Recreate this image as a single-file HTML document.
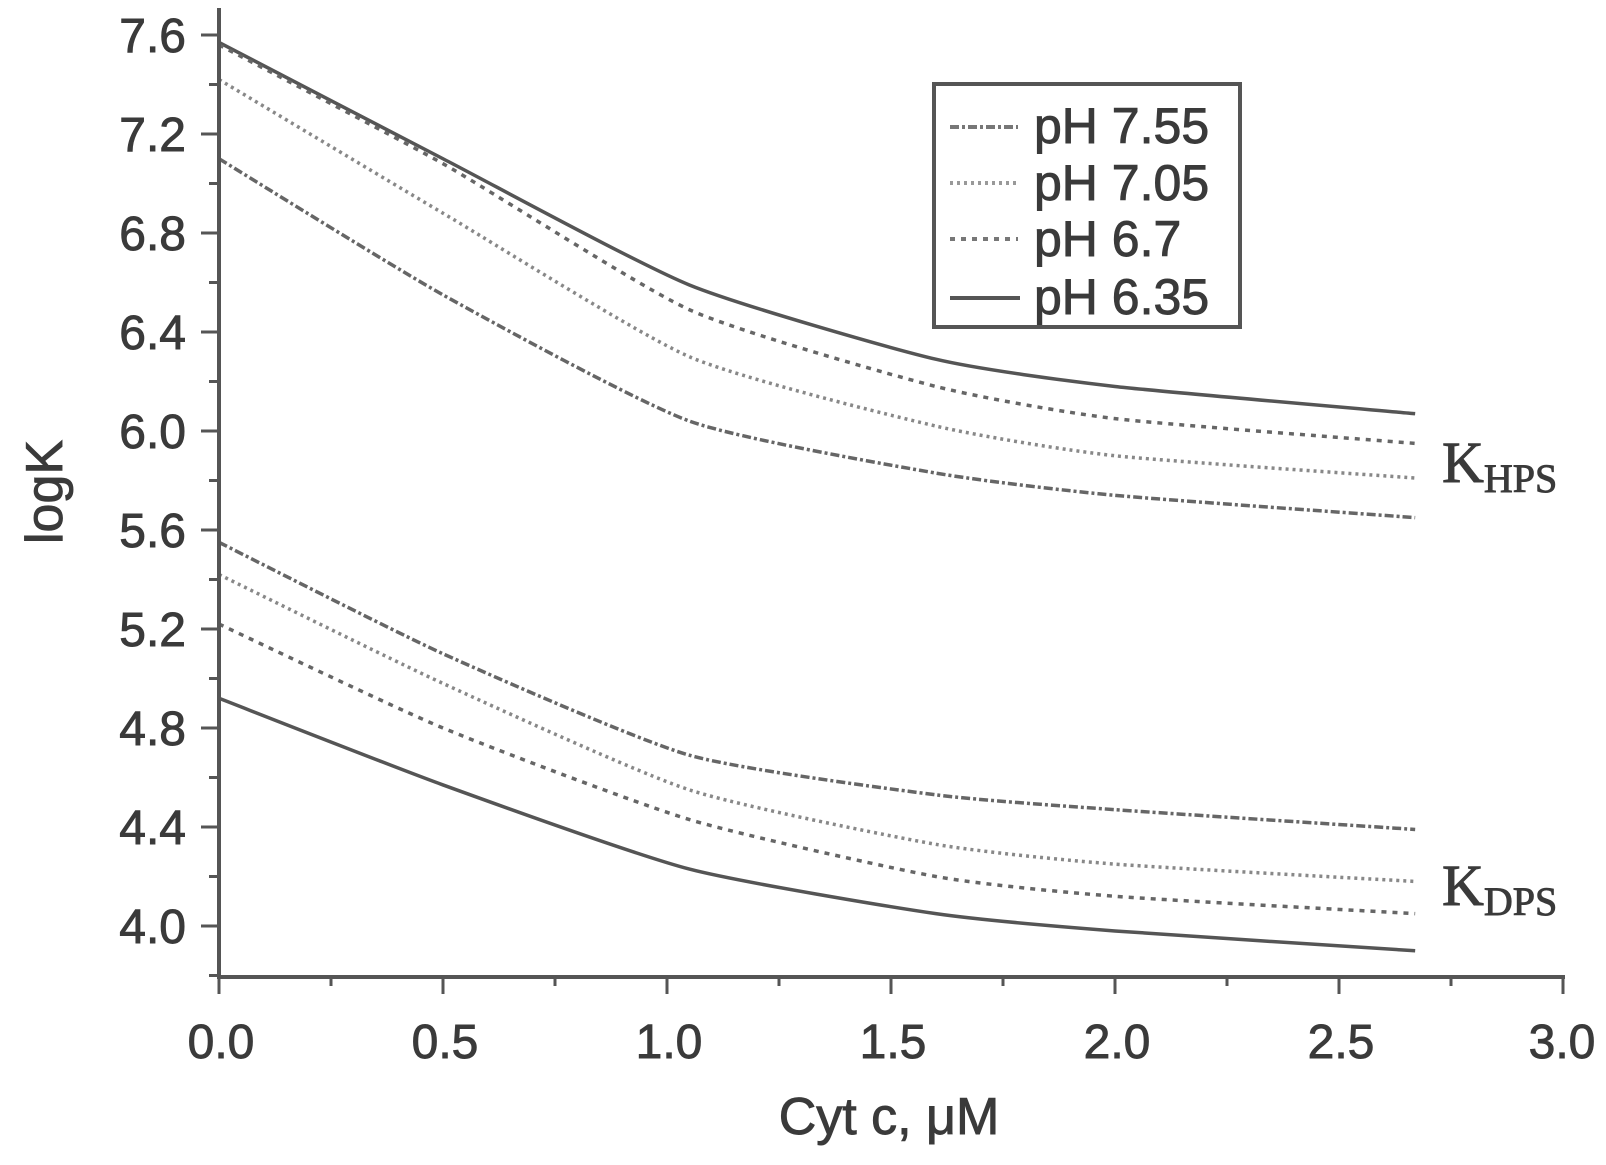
<!DOCTYPE html>
<html><head><meta charset="utf-8"><style>
html,body{margin:0;padding:0;background:#fff;}
svg{display:block;}
text{font-family:"Liberation Sans",Arial,sans-serif;fill:#3a3a3a;stroke:#3a3a3a;stroke-width:0.9;}
</style></head><body>
<svg id="s" width="1606" height="1165" viewBox="0 0 1606 1165" xmlns="http://www.w3.org/2000/svg">
<g id="curves" fill="none" stroke="#666" stroke-width="3.5"></g>
<g stroke="#555" stroke-width="4" fill="none">
<line x1="219" y1="8" x2="219" y2="979"/>
<line x1="217" y1="977" x2="1565" y2="977"/>
</g>
<g id="ticks" stroke="#555" stroke-width="3"></g>
<g font-size="48" text-anchor="end">
<text x="186" y="52">7.6</text><text x="186" y="151">7.2</text><text x="186" y="250">6.8</text>
<text x="186" y="349">6.4</text><text x="186" y="448">6.0</text><text x="186" y="547">5.6</text>
<text x="186" y="646">5.2</text><text x="186" y="745">4.8</text><text x="186" y="844">4.4</text>
<text x="186" y="943">4.0</text>
</g>
<g font-size="48" text-anchor="middle">
<text x="221" y="1058">0.0</text><text x="445" y="1058">0.5</text><text x="669" y="1058">1.0</text>
<text x="893" y="1058">1.5</text><text x="1117" y="1058">2.0</text><text x="1341" y="1058">2.5</text>
<text x="1562" y="1058">3.0</text>
<text x="889" y="1134" font-size="52">Cyt c, μM</text>
<text transform="translate(62,492) rotate(-90)" font-size="52">logK</text>
</g>
<text x="1442" y="482" font-size="58" style="font-family:'Liberation Serif',serif">K<tspan font-size="40" dy="10">HPS</tspan></text>
<text x="1442" y="905" font-size="58" style="font-family:'Liberation Serif',serif">K<tspan font-size="40" dy="10">DPS</tspan></text>
<rect x="934" y="84" width="306" height="243" fill="#fff" stroke="#555" stroke-width="4"/>
<g stroke="#777" stroke-width="4">
<line x1="950" y1="127" x2="1018" y2="127" stroke-dasharray="9,3,3,3"/>
<line x1="950" y1="183" x2="1018" y2="183" stroke-dasharray="3,4" stroke="#999"/>
<line x1="950" y1="239" x2="1018" y2="239" stroke-dasharray="5,6"/>
<line x1="950" y1="298" x2="1020" y2="298" stroke="#555"/>
</g>
<g font-size="50">
<text x="1034" y="143">pH 7.55</text><text x="1034" y="200">pH 7.05</text>
<text x="1034" y="256">pH 6.7</text><text x="1034" y="314">pH 6.35</text>
</g>
</svg>
<script>
const X=x=>219+448*x, Y=v=>35+(7.6-v)*247.5;
const xs=[0,0.5,1.05,1.6,2.0,2.67];
const series=[
[[7.57,7.1,6.59,6.29,6.18,6.07],"none","#555"],
[[7.56,7.08,6.49,6.18,6.05,5.95],"5,6","#666"],
[[7.42,6.88,6.3,6.02,5.9,5.81],"3,4","#888"],
[[7.1,6.55,6.04,5.83,5.74,5.65],"9,3,3,3","#666"],
[[5.55,5.1,4.69,4.53,4.47,4.39],"9,3,3,3","#666"],
[[5.42,4.98,4.55,4.33,4.25,4.18],"3,4","#888"],
[[5.22,4.8,4.43,4.2,4.12,4.05],"5,6","#666"],
[[4.92,4.57,4.23,4.05,3.98,3.9],"none","#555"]];
const g=document.getElementById('curves');
series.forEach(([ys,da,c])=>{
 const p=xs.map((x,i)=>[X(x),Y(ys[i])]);
 let d=`M${p[0][0]},${p[0][1]}`;
 for(let i=0;i<p.length-1;i++){
  const p0=p[i-1]||p[i],p1=p[i],p2=p[i+1],p3=p[i+2]||p2;
  const f=10;
  const c1=[p1[0]+(p2[0]-p0[0])/f,p1[1]+(p2[1]-p0[1])/f];
  const c2=[p2[0]-(p3[0]-p1[0])/f,p2[1]-(p3[1]-p1[1])/f];
  d+=`C${c1},${c2},${p2}`;
 }
 const e=document.createElementNS('http://www.w3.org/2000/svg','path');
 e.setAttribute('d',d);e.setAttribute('stroke',c);
 if(da!=="none")e.setAttribute('stroke-dasharray',da);
 g.appendChild(e);
});
const t=document.getElementById('ticks');
function ln(a,b,c,d){const e=document.createElementNS('http://www.w3.org/2000/svg','line');
e.setAttribute('x1',a);e.setAttribute('y1',b);e.setAttribute('x2',c);e.setAttribute('y2',d);t.appendChild(e);}
for(let k=0;k<=19;k++){const v=7.6-0.2*k;const y=Y(v);ln(k%2?209:201,y,219,y);}
for(let k=0;k<=12;k++){const x=X(0.25*k);ln(x,977,x,k%2?986:994);}
</script>
</body></html>
